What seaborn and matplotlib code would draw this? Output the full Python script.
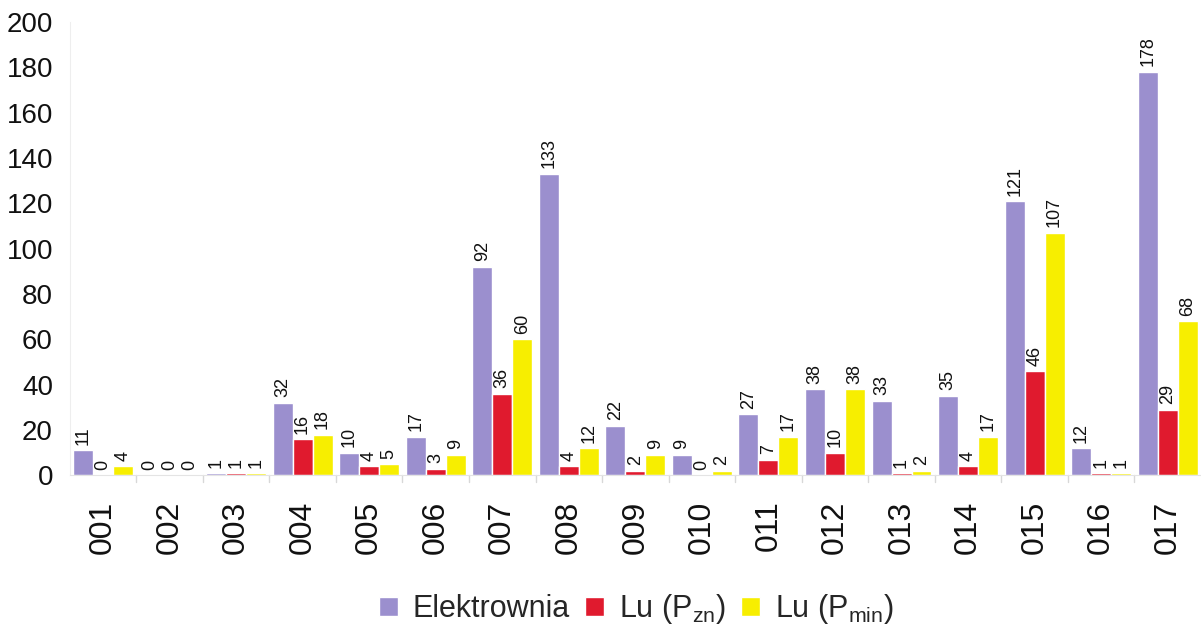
import matplotlib
matplotlib.use("Agg")
import matplotlib.pyplot as plt
import seaborn as sns
import pandas as pd

categories = ["001", "002", "003", "004", "005", "006", "007", "008", "009",
              "010", "011", "012", "013", "014", "015", "016", "017"]
elektrownia = [11, 0, 1, 32, 10, 17, 92, 133, 22, 9, 27, 38, 33, 35, 121, 12, 178]
lu_pzn = [0, 0, 1, 16, 4, 3, 36, 4, 2, 0, 7, 10, 1, 4, 46, 1, 29]
lu_pmin = [4, 0, 1, 18, 5, 9, 60, 12, 9, 2, 17, 38, 2, 17, 107, 1, 68]
series_names = ["Elektrownia", "Lu (P$_{\\mathregular{zn}}$)", "Lu (P$_{\\mathregular{min}}$)"]
colors = ["#9b8fce", "#e01a2e", "#f7ee00"]

df = pd.DataFrame({
    "kategoria": categories * 3,
    "wartosc": elektrownia + lu_pzn + lu_pmin,
    "seria": [series_names[0]] * len(categories)
             + [series_names[1]] * len(categories)
             + [series_names[2]] * len(categories),
})

sns.set_style("white")
plt.rcParams["font.family"] = ["Liberation Sans", "DejaVu Sans"]
plt.rcParams["mathtext.fontset"] = "custom"
plt.rcParams["mathtext.rm"] = "Liberation Sans"

fig = plt.figure(figsize=(12.01, 6.28), dpi=100)
ax = fig.add_axes([0.058, 0.243, 0.942, 0.722])

sns.barplot(data=df, x="kategoria", y="wartosc", hue="seria",
            palette=colors, order=categories, hue_order=series_names,
            width=0.9, saturation=1, ax=ax, legend=True)

for container in ax.containers:
    ax.bar_label(container, labels=[f"{v:.0f}" for v in container.datavalues],
                 rotation=90, padding=4, fontsize=13, color="#111111")

ax.set_ylim(0, 200)
ax.set_xlim(-0.5, len(categories) - 0.5)
ax.set_yticks(range(0, 201, 20))
ax.tick_params(axis="y", labelsize=20, length=0, pad=12, colors="#111111")
ax.tick_params(axis="x", labelsize=23, length=0, pad=18, labelrotation=90,
               colors="#111111")
ax.set_xlabel("")
ax.set_ylabel("")

for side in ["top", "right"]:
    ax.spines[side].set_visible(False)
ax.spines["left"].set_color("#eeeeee")
ax.spines["bottom"].set_color("#e4e4e4")

# separators between category groups
for i in range(1, len(categories)):
    ax.plot([i - 0.5, i - 0.5], [0, -3], color="#d8d8d8", lw=1,
            clip_on=False)

handles, labels = ax.get_legend_handles_labels()
ax.get_legend().remove()
fig.legend(handles, labels, loc="center", bbox_to_anchor=(0.53, 0.03),
           ncol=3, frameon=False, fontsize=22, handlelength=0.6,
           handleheight=0.6, handletextpad=0.5, columnspacing=0.5,
           borderpad=0.1)

fig.savefig("out.png", dpi=100)
